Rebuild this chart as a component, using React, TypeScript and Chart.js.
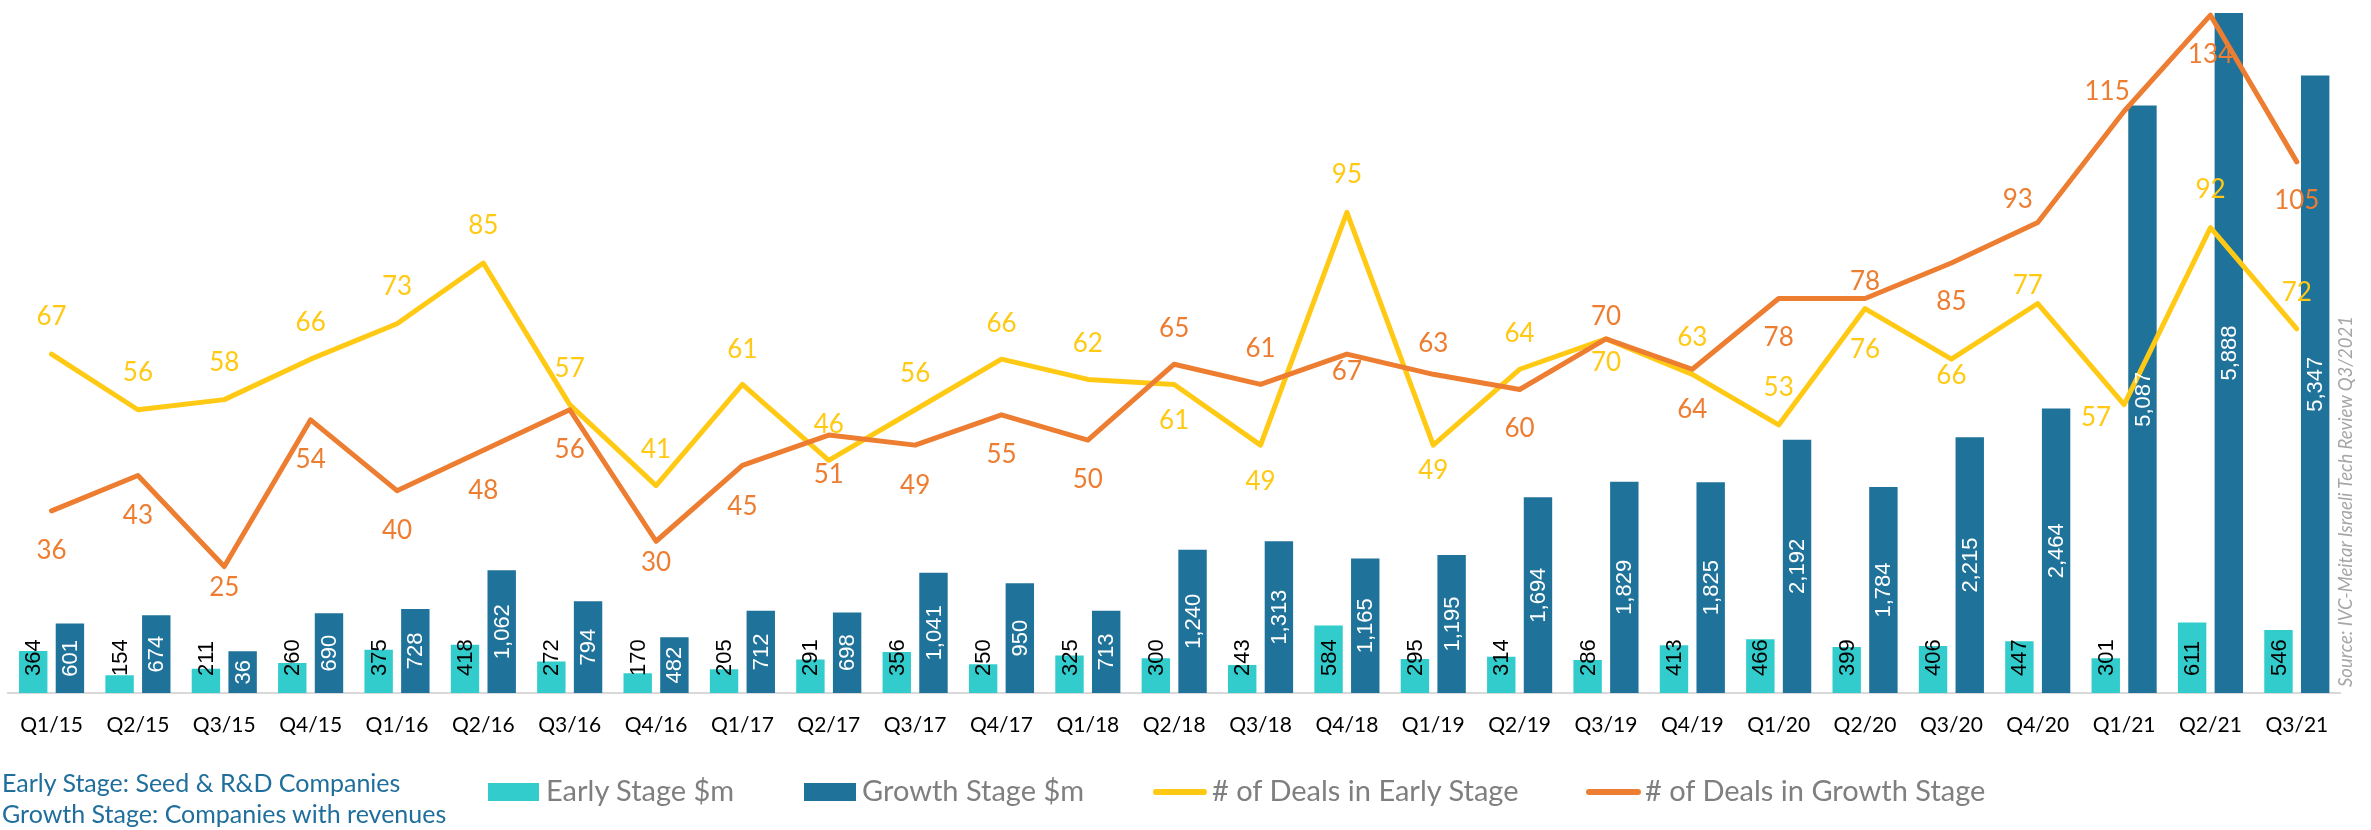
import React, { useEffect, useRef } from "react";
import { Chart, registerables } from "chart.js";

Chart.register(...registerables);

const quarters = [
  "Q1/15", "Q2/15", "Q3/15", "Q4/15", "Q1/16", "Q2/16", "Q3/16", "Q4/16", "Q1/17",
  "Q2/17", "Q3/17", "Q4/17", "Q1/18", "Q2/18", "Q3/18", "Q4/18", "Q1/19", "Q2/19",
  "Q3/19", "Q4/19", "Q1/20", "Q2/20", "Q3/20", "Q4/20", "Q1/21", "Q2/21", "Q3/21",
];

const earlyStageUsd = [
  364, 154, 211, 260, 375, 418, 272, 170, 205, 291, 356, 250, 325, 300, 243, 584, 295, 314,
  286, 413, 466, 399, 406, 447, 301, 611, 546,
];

const growthStageUsd = [
  601, 674, 361, 690, 728, 1062, 794, 482, 712, 698, 1041, 950, 713, 1240, 1313, 1165, 1195,
  1694, 1829, 1825, 2192, 1784, 2215, 2464, 5087, 5888, 5347,
];

const growthStageLabels = [
  "601", "674", "36", "690", "728", "1,062", "794", "482", "712", "698", "1,041", "950", "713",
  "1,240", "1,313", "1,165", "1,195", "1,694", "1,829", "1,825", "2,192", "1,784", "2,215",
  "2,464", "5,087", "5,888", "5,347",
];

const earlyDeals = [
  67, 56, 58, 66, 73, 85, 57, 41, 61, 46, 56, 66, 62, 61, 49, 95, 49, 64, 70, 63, 53, 76, 66, 77,
  57, 92, 72,
];

const growthDeals = [
  36, 43, 25, 54, 40, 48, 56, 30, 45, 51, 49, 55, 50, 65, 61, 67, 63, 60, 70, 64, 78, 78, 85, 93,
  115, 134, 105,
];

// label placement (offset of label centre from the point, px)
const earlyDealLabelDy = [
  -37, -37, -37, -37, -37, -37, -36, -36, -35, -36, -36, -36, -36, 36, 36, -38, 25, -36, 24, -37,
  -37, 41, 16, -18, 13, -38, -36,
];
const earlyDealLabelDx = [
  0, 0, 0, 0, 0, 0, 0, 0, 0, 0, 0, 0, 0, 0, 0, 0, 0, 0, 0, 0, 0, 0, 0, -10, -28, 0, 0,
];
const growthDealLabelDy = [
  40, 40, 21, 40, 40, 40, 40, 21, 41, 40, 40, 40, 40, -36, -36, 18, -31, 39, -22, 40, 39, -17,
  39, -23, -20, 39, 39,
];
const growthDealLabelDx = [
  0, 0, 0, 0, 0, 0, 0, 0, 0, 0, 0, 0, 0, 0, 0, 0, 0, 0, 0, 0, 0, 0, 0, -20, -17, 0, 0,
];

const COLORS = {
  early: "#33CCCC",
  growth: "#1F7299",
  yellow: "#FFC914",
  orange: "#ED7D31",
  legendText: "#7F7F7F",
  noteText: "#1F6E9C",
  source: "#A6A6A6",
  axis: "#D9D9D9",
};

const LABEL_FONT = "Lato, 'Open Sans', sans-serif";
const BAR_LABEL_FONT = "'Liberation Sans', Arial, sans-serif";

const labelsPlugin = {
  id: "valueLabels",
  afterDatasetsDraw(chart: any) {
    const ctx = chart.ctx;
    const base = chart.chartArea.bottom;
    ctx.save();
    const earlyMeta = chart.getDatasetMeta(0);
    const growthMeta = chart.getDatasetMeta(1);
    ctx.font = `22px ${BAR_LABEL_FONT}`;
    ctx.textBaseline = "middle";
    earlyMeta.data.forEach((el: any, i: number) => {
      ctx.save();
      ctx.translate(el.x + 1, base - 17);
      ctx.rotate(-Math.PI / 2);
      ctx.textAlign = "left";
      ctx.fillStyle = "#000000";
      ctx.fillText(String(earlyStageUsd[i]), 0, 0);
      ctx.restore();
    });
    growthMeta.data.forEach((el: any, i: number) => {
      ctx.save();
      ctx.translate(el.x + 1, (el.y + el.base) / 2);
      ctx.rotate(-Math.PI / 2);
      ctx.textAlign = "center";
      ctx.fillStyle = "#FFFFFF";
      ctx.fillText(growthStageLabels[i], 0, 0);
      ctx.restore();
    });
    ctx.font = `26px ${LABEL_FONT}`;
    ctx.textAlign = "center";
    ctx.textBaseline = "middle";
    const earlyLine = chart.getDatasetMeta(2);
    ctx.fillStyle = COLORS.yellow;
    earlyLine.data.forEach((el: any, i: number) => {
      ctx.fillText(String(earlyDeals[i]), el.x + earlyDealLabelDx[i], el.y + earlyDealLabelDy[i]);
    });
    const growthLine = chart.getDatasetMeta(3);
    ctx.fillStyle = COLORS.orange;
    growthLine.data.forEach((el: any, i: number) => {
      ctx.fillText(String(growthDeals[i]), el.x + growthDealLabelDx[i], el.y + growthDealLabelDy[i]);
    });
    ctx.restore();
  },
};

export default function App() {
  const canvasRef = useRef<HTMLCanvasElement | null>(null);

  useEffect(() => {
    const canvas = canvasRef.current;
    if (!canvas) return;
    const chart = new Chart(canvas, {
      type: "bar",
      data: {
        labels: quarters,
        datasets: [
          {
            type: "bar",
            label: "Early Stage $m",
            data: earlyStageUsd,
            backgroundColor: COLORS.early,
            yAxisID: "y",
            order: 2,
            categoryPercentage: 0.85,
            barPercentage: 0.774,
          },
          {
            type: "bar",
            label: "Growth Stage $m",
            data: growthStageUsd,
            backgroundColor: COLORS.growth,
            yAxisID: "y",
            order: 3,
            categoryPercentage: 0.85,
            barPercentage: 0.774,
          },
          {
            type: "line",
            label: "# of Deals in Early Stage",
            data: earlyDeals,
            borderColor: COLORS.yellow,
            backgroundColor: COLORS.yellow,
            borderWidth: 5,
            pointRadius: 0,
            tension: 0,
            borderCapStyle: "round",
            borderJoinStyle: "round",
            yAxisID: "yDeals",
            order: 1,
          },
          {
            type: "line",
            label: "# of Deals in Growth Stage",
            data: growthDeals,
            borderColor: COLORS.orange,
            backgroundColor: COLORS.orange,
            borderWidth: 5,
            pointRadius: 0,
            tension: 0,
            borderCapStyle: "round",
            borderJoinStyle: "round",
            yAxisID: "yDeals",
            order: 0,
          },
        ],
      },
      options: {
        responsive: false,
        animation: false,
        devicePixelRatio: 1,
        layout: { padding: { left: 8, right: 31, top: 0, bottom: 87 } },
        plugins: {
          legend: { display: false },
          tooltip: { enabled: false },
          title: { display: false },
        },
        scales: {
          x: {
            grid: { display: false, drawTicks: false },
            border: { display: true, color: COLORS.axis, width: 2 },
            ticks: {
              color: "#000000",
              font: { family: LABEL_FONT, size: 21 },
              padding: 20,
              maxRotation: 0,
              minRotation: 0,
              autoSkip: false,
            },
            afterFit: (scale: any) => {
              scale.height = 50;
            },
          },
          y: { display: false, min: 0, max: 6000 },
          yDeals: { display: false, min: 0, max: 137, position: "right" },
        },
      },
      plugins: [labelsPlugin],
    } as any);
    return () => chart.destroy();
  }, []);

  const legendText: React.CSSProperties = {
    position: "absolute",
    top: 775,
    fontFamily: LABEL_FONT,
    fontSize: 29,
    lineHeight: "29px",
    color: COLORS.legendText,
    whiteSpace: "nowrap",
  };

  return (
    <div
      style={{
        position: "absolute",
        left: 0,
        top: 0,
        width: 2371,
        height: 830,
        background: "#ffffff",
        overflow: "hidden",
      }}
    >
      <canvas
        ref={canvasRef}
        width={2371}
        height={830}
        style={{ position: "absolute", left: 0, top: 0, width: 2371, height: 830 }}
      />
      <div
        style={{
          position: "absolute",
          left: 2,
          top: 767,
          fontFamily: LABEL_FONT,
          fontSize: 25,
          lineHeight: "31px",
          color: COLORS.noteText,
          whiteSpace: "nowrap",
        }}
      >
        <div>Early Stage: Seed &amp; R&amp;D Companies</div>
        <div>Growth Stage: Companies with revenues</div>
      </div>
      <div style={{ position: "absolute", left: 488, top: 783, width: 51, height: 18, background: COLORS.early }} />
      <div style={{ ...legendText, left: 546 }}>Early Stage $m</div>
      <div style={{ position: "absolute", left: 804, top: 783, width: 52, height: 18, background: COLORS.growth }} />
      <div style={{ ...legendText, left: 862 }}>Growth Stage $m</div>
      <div
        style={{
          position: "absolute",
          left: 1153,
          top: 789,
          width: 54,
          height: 6,
          borderRadius: 3,
          background: COLORS.yellow,
        }}
      />
      <div style={{ ...legendText, left: 1212 }}># of Deals in Early Stage</div>
      <div
        style={{
          position: "absolute",
          left: 1586,
          top: 789,
          width: 55,
          height: 6,
          borderRadius: 3,
          background: COLORS.orange,
        }}
      />
      <div style={{ ...legendText, left: 1645 }}># of Deals in Growth Stage</div>
      <div
        style={{
          position: "absolute",
          left: 2335,
          top: 687,
          transform: "rotate(-90deg)",
          transformOrigin: "0 0",
          fontFamily: LABEL_FONT,
          fontStyle: "italic",
          fontSize: 18.5,
          lineHeight: "20px",
          color: COLORS.source,
          whiteSpace: "nowrap",
        }}
      >
        Source: IVC-Meitar Israeli Tech Review Q3/2021
      </div>
    </div>
  );
}
